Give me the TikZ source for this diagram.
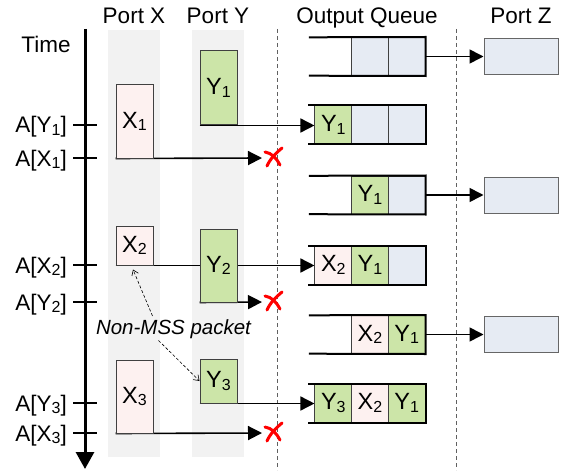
\documentclass[tikz,border=0pt]{standalone}
\usepackage{fontspec}
\setmainfont{Liberation Sans}
\usetikzlibrary{arrows.meta,calc}
\definecolor{pinkf}{HTML}{FDF1F0}
\definecolor{greenf}{HTML}{CCE5A8}
\definecolor{bluef}{HTML}{E6EBF3}
\definecolor{bandc}{HTML}{F2F2F2}
\definecolor{boxline}{HTML}{404040}
\definecolor{sepc}{HTML}{606060}
\newcommand\sbs[1]{\raisebox{-2.7pt}{\fontsize{16}{16}\selectfont #1}}
\pgfdeclarelayer{back}
\pgfdeclarelayer{bg}
\pgfsetlayers{back,bg,main}
\tikzset{
  lbl/.style={inner sep=0pt, font=\fontsize{22.5}{26}\selectfont},
  anlbl/.style={inner sep=0pt, font=\fontsize{20.5}{24}\selectfont\itshape},
  pkt/.style={draw=boxline, line width=1pt, inner sep=0pt, minimum width=37pt, font=\fontsize{23.5}{26}\selectfont},
  xpk/.style={pkt, fill=pinkf},
  ypk/.style={pkt, fill=greenf},
  cell/.style={inner sep=0pt, minimum width=36.7pt, minimum height=38pt, font=\fontsize{23.5}{26}\selectfont},
  xcell/.style={cell, draw=boxline, line width=1pt, fill=pinkf},
  ycell/.style={cell, draw=boxline, line width=1pt, fill=greenf},
  bcell/.style={cell, draw=boxline, line width=1pt, fill=bluef},
  ecell/.style={cell},
  zbox/.style={draw=boxline!80, line width=1pt, fill=bluef, minimum width=74pt, minimum height=36pt, inner sep=0pt},
  flow/.style={line width=1.6pt, -{Triangle[length=14pt,width=14pt]}},
  taxis/.style={line width=3pt, -{Triangle[length=17pt,width=18pt]}},
  tick/.style={line width=1.6pt},
  qline/.style={line width=2pt},
  sepline/.style={sepc, line width=1pt, dash pattern=on 4pt off 3pt},
  ann/.style={line width=0.6pt, dash pattern=on 3pt off 2pt, -{Straight Barb[length=5pt,width=7pt]}},
  dropmark/.pic={
    \draw[red, line width=3pt, line cap=round] (-8,-5) .. controls (-1,-4) and (4,2) .. (7,8);
    \draw[red, line width=3pt, line cap=round] (9,-9) .. controls (3,-4) and (-3,2) .. (-6,9);
  }
}
\newcommand\qframe[1]{\draw[qline] ($(#1a.north west)+(-6,0)$) -- (#1c.north east) -- (#1c.south east) -- ($(#1a.south west)+(-6,0)$);}
\begin{document}
\begin{tikzpicture}[x=1pt,y=-1pt]
\useasboundingbox (0,0) rectangle (569,473);
\begin{pgfonlayer}{back}
  \fill[bandc] (108,30) rectangle (160,457);
  \fill[bandc] (192,30) rectangle (244,457);
  \draw[sepline] (277,29) -- (277,470);
  \draw[sepline] (456,29) -- (456,470);
\end{pgfonlayer}

% headers
\node[lbl, anchor=base] (hx) at (134,24) {Port X};
\node[lbl, anchor=base] (hy) at (218,24) {Port Y};
\node[lbl, anchor=base] (hq) at (367,24) {Output Queue};
\node[lbl, anchor=base] (hz) at (521,24) {Port Z};
\node[lbl, anchor=base] (ht) at (46,53) {Time};

% time axis
\coordinate (t0) at (85,29);
\coordinate (t1) at (85,469);
\draw[taxis] (t0) -- (t1);
\foreach \yy/\nm/\lt in {125/ay1/{A[Y\sbs1]}, 158/ax1/{A[X\sbs1]}, 265/ax2/{A[X\sbs2]}, 302/ay2/{A[Y\sbs2]}, 403/ay3/{A[Y\sbs3]}, 433/ax3/{A[X\sbs3]}}{
  \draw[tick] (73,\yy) -- (97,\yy);
  \node[lbl, anchor=base east] (\nm) at (67,\yy+8) {\lt};
}

% packets
\node[xpk, minimum height=73pt] (x1) at (134.5,121.5) {X\sbs1};
\node[ypk, minimum height=74pt] (y1) at (218.5,88) {Y\sbs1};
\node[xpk, minimum height=39pt] (x2) at (134.5,245.5) {X\sbs2};
\node[ypk, minimum height=73pt] (y2) at (218.5,265.5) {Y\sbs2};
\node[ypk, minimum height=44pt] (y3) at (218.5,381) {Y\sbs3};
\node[xpk, minimum height=73pt] (x3) at (134.5,396.5) {X\sbs3};

% queues
\node[ecell] (q1a) at (333.3,56.5) {};
\node[bcell] (q1b) at (370,56.5) {};
\node[bcell] (q1c) at (406.7,56.5) {};
\qframe{q1}
\node[ycell] (q2a) at (333.3,125) {Y\sbs1};
\node[bcell] (q2b) at (370,125) {};
\node[bcell] (q2c) at (406.7,125) {};
\qframe{q2}
\node[ecell] (q3a) at (333.3,195) {};
\node[ycell] (q3b) at (370,195) {Y\sbs1};
\node[bcell] (q3c) at (406.7,195) {};
\qframe{q3}
\node[xcell] (q4a) at (333.3,265) {X\sbs2};
\node[ycell] (q4b) at (370,265) {Y\sbs1};
\node[bcell] (q4c) at (406.7,265) {};
\qframe{q4}
\node[ecell] (q5a) at (333.3,334.5) {};
\node[xcell] (q5b) at (370,334.5) {X\sbs2};
\node[ycell] (q5c) at (406.7,334.5) {Y\sbs1};
\qframe{q5}
\node[ycell] (q6a) at (333.3,403) {Y\sbs3};
\node[xcell] (q6b) at (370,403) {X\sbs2};
\node[ycell] (q6c) at (406.7,403) {Y\sbs1};
\qframe{q6}

% port Z
\node[zbox] (z1) at (521,56.5) {};
\node[zbox] (z3) at (521,195) {};
\node[zbox] (z5) at (521,334.5) {};
\draw[flow] (q1c.east) -- (z1.west);
\draw[flow] (q3c.east) -- (z3.west);
\draw[flow] (q5c.east) -- (z5.west);

% drop points
\coordinate (dx1) at (262,158);
\coordinate (dy2) at (262,302);
\coordinate (dx3) at (262,433);

\begin{pgfonlayer}{bg}
  \draw[flow] (y1.south west) -- (y1.south west -| q2a.west);
  \draw[flow] (x1.south west) -- (dx1);
  \draw[flow] (x2.south west) -- (x2.south west -| q4a.west);
  \draw[flow] (y2.south west) -- (dy2);
  \draw[flow] (y3.south west) -- (y3.south west -| q6a.west);
  \draw[flow] (x3.south west) -- (dx3);
\end{pgfonlayer}

\pic at ($(dx1)+(11,-1)$) {dropmark};
\pic at ($(dy2)+(11,-1)$) {dropmark};
\pic at ($(dx3)+(11,-1)$) {dropmark};

% annotation
\node[anlbl, anchor=base] (nm) at (173.5,334) {Non-MSS packet};
\draw[ann] ($(nm.north)+(-21,-3)$) -- ($(x2.south)+(-1.5,4)$);
\draw[ann] ($(nm.south)+(-15,2)$) -- (y3.west);
\end{tikzpicture}
\end{document}
